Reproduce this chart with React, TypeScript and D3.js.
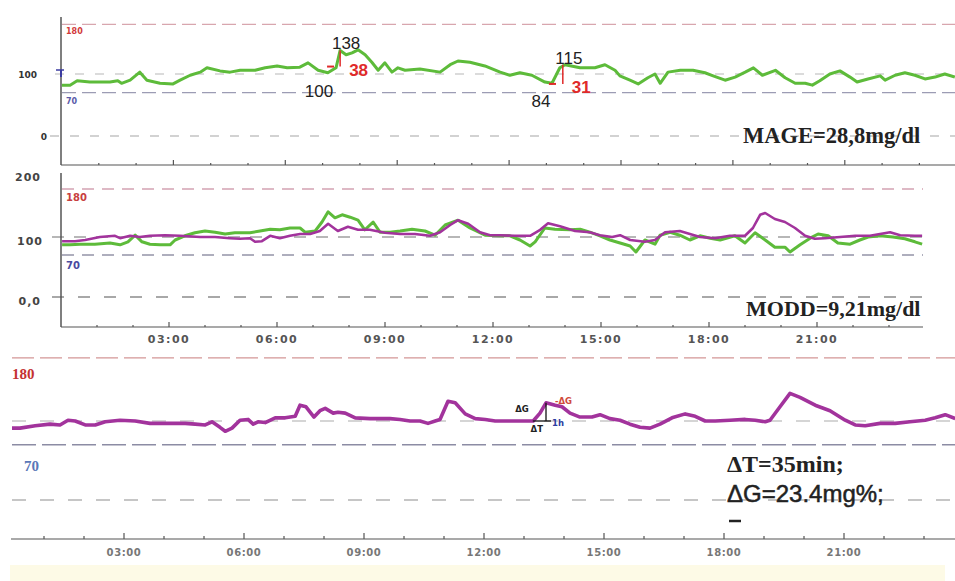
import React from "react";
import * as d3 from "d3";

// panel 1 (MAGE) glucose trace, [hour, mg/dl]
const mageSeries: [number, number][] = [
  [0.01, 82], [0.23, 82], [0.42, 89], [0.76, 87], [1.3, 87], [1.51, 89], [1.61, 85], [1.84, 90],
  [2.1, 103], [2.29, 90], [2.64, 85], [2.99, 84], [3.18, 90], [3.45, 98], [3.72, 103], [3.9, 110],
  [4.25, 105], [4.52, 103], [4.79, 106], [5.19, 106], [5.46, 110], [5.78, 113], [6.05, 110], [6.39, 111],
  [6.61, 118], [6.88, 106], [7.14, 102], [7.36, 110], [7.47, 138], [7.63, 131], [7.79, 134], [7.95, 139],
  [8.14, 131], [8.32, 119], [8.49, 106], [8.67, 118], [8.86, 103], [9.02, 110], [9.21, 106], [9.61, 108],
  [10.15, 103], [10.42, 115], [10.63, 121], [10.95, 119], [11.35, 113], [11.76, 103], [12.02, 98], [12.29, 102],
  [12.61, 98], [12.96, 87], [13.15, 85], [13.36, 110], [13.5, 115], [13.9, 110], [14.3, 110], [14.57, 115],
  [14.84, 106], [14.97, 97], [15.24, 90], [15.46, 84], [15.72, 94], [15.91, 100], [16.05, 85], [16.26, 103],
  [16.59, 106], [16.93, 106], [17.25, 102], [17.47, 97], [17.79, 90], [18.06, 95], [18.33, 103], [18.55, 110],
  [18.79, 98], [19.14, 106], [19.4, 94], [19.67, 85], [19.94, 85], [20.13, 82], [20.33, 89], [20.6, 100],
  [20.87, 105], [21.14, 95], [21.33, 87], [21.62, 92], [21.95, 97], [22.08, 90], [22.35, 98], [22.61, 102],
  [22.88, 98], [23.15, 92], [23.42, 95], [23.68, 100], [23.95, 95],
];

// MAGE swings marked on panel 1
const swingPeakHours = [7.47, 13.44];
const swingPeaks = [138, 115];
const swingNadirHours = [7.2, 13.15];
const swingNadirs = [100, 84];
const swingLineBase = [112, 84];
const swingAmplitudes = [38, 31];

// panel 2 (MODD) two consecutive days
const moddDayA: [number, number][] = [
  [0.03, 87], [0.25, 87], [0.53, 88], [0.94, 88], [1.36, 90], [1.64, 87], [1.86, 92], [2.06, 103],
  [2.25, 92], [2.47, 88], [2.75, 87], [3.03, 87], [3.17, 95], [3.44, 102], [3.72, 107], [4.0, 110],
  [4.28, 108], [4.56, 105], [4.83, 107], [5.25, 107], [5.53, 110], [5.81, 113], [6.08, 112], [6.36, 115],
  [6.64, 115], [6.78, 108], [7.06, 110], [7.25, 125], [7.42, 142], [7.61, 132], [7.81, 137], [8.03, 133],
  [8.25, 128], [8.44, 112], [8.67, 125], [8.86, 108], [9.14, 108], [9.42, 110], [9.75, 113], [10.11, 110],
  [10.39, 103], [10.67, 120], [11.03, 128], [11.36, 115], [11.78, 103], [12.19, 102], [12.47, 102], [12.75, 95],
  [13.03, 85], [13.17, 92], [13.44, 115], [13.72, 113], [14.14, 112], [14.42, 113], [14.69, 108], [14.97, 102],
  [15.25, 95], [15.53, 90], [15.81, 85], [15.97, 75], [16.22, 95], [16.5, 88], [16.64, 103], [16.92, 108],
  [17.19, 103], [17.47, 95], [17.75, 102], [18.03, 98], [18.31, 95], [18.72, 102], [19.0, 90], [19.28, 107],
  [19.56, 95], [19.83, 83], [20.11, 83], [20.25, 75], [20.53, 87], [20.81, 98], [21.03, 105], [21.31, 102],
  [21.58, 90], [21.92, 88], [22.19, 95], [22.42, 100], [22.75, 102], [23.11, 100], [23.44, 97], [23.72, 92],
  [23.92, 88],
];
const moddDayB: [number, number][] = [
  [0.03, 93], [0.39, 93], [0.67, 95], [1.08, 100], [1.5, 102], [1.64, 98], [1.92, 102], [2.19, 100],
  [2.47, 102], [2.89, 103], [3.31, 102], [3.86, 100], [4.28, 100], [4.69, 98], [4.97, 97], [5.25, 98],
  [5.39, 92], [5.58, 93], [5.81, 102], [6.08, 98], [6.36, 102], [6.64, 105], [6.92, 105], [7.19, 110],
  [7.42, 122], [7.69, 110], [7.97, 117], [8.25, 112], [8.58, 112], [9.0, 107], [9.42, 105], [9.83, 105],
  [10.25, 102], [10.53, 108], [10.81, 120], [11.03, 128], [11.31, 122], [11.64, 108], [11.92, 103], [12.19, 103],
  [12.61, 102], [13.03, 102], [13.31, 112], [13.53, 123], [13.86, 118], [14.28, 110], [14.69, 108], [14.97, 103],
  [15.31, 100], [15.53, 103], [15.81, 95], [16.22, 92], [16.5, 95], [16.78, 108], [17.19, 110], [17.47, 105],
  [17.75, 100], [18.17, 98], [18.58, 102], [19.0, 102], [19.22, 115], [19.42, 137], [19.56, 140], [19.83, 130],
  [20.11, 125], [20.39, 115], [20.67, 102], [20.94, 97], [21.22, 98], [21.64, 100], [22.06, 102], [22.47, 102],
  [22.75, 105], [23.03, 108], [23.31, 103], [23.72, 102], [23.92, 102],
];

// panel 3 (CONGA) trace
const congaSeries: [number, number][] = [
  [0.2, 91], [0.4, 91], [0.78, 94], [1.15, 96], [1.4, 95], [1.6, 101], [1.78, 100], [2.03, 95],
  [2.28, 95], [2.53, 99], [2.9, 101], [3.28, 100], [3.65, 97], [4.15, 97], [4.53, 97], [4.78, 96],
  [5.03, 95], [5.2, 99], [5.4, 92], [5.53, 87], [5.7, 91], [5.9, 101], [6.1, 102], [6.23, 96],
  [6.35, 99], [6.53, 98], [6.78, 104], [7.03, 104], [7.28, 106], [7.4, 120], [7.55, 118], [7.75, 105],
  [7.9, 113], [8.03, 116], [8.23, 110], [8.35, 111], [8.53, 110], [8.78, 104], [9.15, 103], [9.65, 103],
  [9.9, 102], [10.15, 100], [10.4, 100], [10.6, 97], [10.78, 100], [10.9, 102], [11.1, 125], [11.28, 123],
  [11.53, 109], [11.78, 103], [12.03, 102], [12.28, 100], [12.65, 100], [13.03, 100], [13.23, 100], [13.4, 110],
  [13.55, 123], [13.78, 120], [13.95, 118], [14.15, 110], [14.4, 105], [14.7, 105], [14.9, 108], [15.15, 103],
  [15.4, 101], [15.65, 96], [15.9, 92], [16.15, 91], [16.4, 96], [16.7, 104], [17.03, 109], [17.28, 106],
  [17.53, 100], [17.78, 100], [18.15, 101], [18.53, 102], [18.78, 101], [19.03, 99], [19.15, 101], [19.4, 118],
  [19.65, 135], [19.9, 130], [20.28, 120], [20.65, 113], [21.03, 101], [21.28, 95], [21.53, 94], [21.9, 97],
  [22.28, 97], [22.65, 99], [23.03, 101], [23.28, 104], [23.53, 108], [23.78, 103],
];

// CONGA step marked on panel 3
const stepStartHour = 13.22;
const stepEndHour = 13.55;
const stepBase = 100;
const stepTop = 123;

const timeLabels = ["03:00", "06:00", "09:00", "12:00", "15:00", "18:00", "21:00"];
const hourTicks = d3.range(1, 24);

const GREEN = "#5dbb3a";
const PURPLE = "#a2339c";
const AXIS = "#555";

type Pt = [number, number];

function trace(xs: d3.ScaleLinear<number, number>, ys: d3.ScaleLinear<number, number>) {
  return d3
    .line<Pt>()
    .x(d => xs(d[0]))
    .y(d => ys(d[1]));
}

export default function App() {
  // panel scales
  const x1 = d3.scaleLinear().domain([0, 24]).range([61.5, 956.7]);
  const y1 = d3.scaleLinear().domain([0, 180]).range([136, 24.4]);
  const x2 = d3.scaleLinear().domain([0, 24]).range([61, 925]);
  const y2 = d3.scaleLinear().domain([0, 200]).range([297, 177]);
  const x3 = d3.scaleLinear().domain([0, 24]).range([4, 964]);
  const y3 = d3.scaleLinear().domain([0, 180]).range([500, 357.8]);

  const hline = (y: number, xa: number, xb: number, color: string, dash: string, w = 1.3) => (
    <line x1={xa} x2={xb} y1={y} y2={y} stroke={color} strokeDasharray={dash} strokeWidth={w} />
  );

  return (
    <div style={{ position: "absolute", left: 0, top: 0 }}>
      <svg width={955} height={581} style={{ display: "block", background: "#fff" }}>
        <rect x={10} y={565} width={935} height={16} fill="#fdfae6" />

        {/* ---------- panel 1: MAGE ---------- */}
        <g>
          {hline(y1(180), 62, 955, "#d8a6ae", "14 6")}
          {hline(y1(100), 55, 955, "#cfcfcf", "9 11")}
          {hline(y1(70), 62, 955, "#9c9cb4", "14 6")}
          {hline(y1(0), 50, 955, "#c4c4c4", "9 11")}
          <line x1={61} x2={61} y1={17} y2={165} stroke={AXIS} strokeWidth={1.5} />
          <line x1={61} x2={955} y1={165} y2={165} stroke={AXIS} strokeWidth={1.2} />
          {hourTicks.map(h => (
            <line key={h} x1={x1(h)} x2={x1(h)} y1={165} y2={h % 3 === 0 ? 160 : 163} stroke={AXIS} strokeWidth={1.2} />
          ))}
          <line x1={56} x2={64} y1={y1(100) - 4} y2={y1(100) - 4} stroke="#3b3ba0" strokeWidth={1.5} />
          <line x1={61} x2={61} y1={y1(100) - 4} y2={y1(100) + 3} stroke="#3b3ba0" strokeWidth={2} />
          <g fontFamily="DejaVu Sans, sans-serif" fontWeight="bold">
            <text x={37} y={y1(100) + 4} fontSize={9} fill="#333" textAnchor="end">100</text>
            <text x={47} y={y1(0) + 4} fontSize={9} fill="#333" textAnchor="end">0</text>
            <text x={66} y={y1(180) + 10} fontSize={8} fill="#d23a3a">180</text>
            <text x={66} y={y1(70) + 11} fontSize={8} fill="#5a5aa8">70</text>
          </g>
          <path d={trace(x1, y1)(mageSeries) ?? ""} fill="none" stroke={GREEN} strokeWidth={3} strokeLinejoin="round" />
          {swingPeaks.map((p, i) => {
            const px = x1(swingPeakHours[i]);
            const nx = x1(swingNadirHours[i]);
            const base = y1(swingLineBase[i]);
            return (
              <g key={i} fontFamily="Liberation Sans, Arial, sans-serif">
                <line x1={px} x2={px} y1={y1(p)} y2={base} stroke="#e02a2a" strokeWidth={1.5} />
                <line x1={nx - 3} x2={nx + 4} y1={base} y2={base} stroke="#e02a2a" strokeWidth={2} />
                <text x={px + 6} y={y1(p) - 1} fontSize={17} fill="#222" textAnchor="middle">{p}</text>
                <text x={nx - 11} y={y1(swingNadirs[i]) + 23} fontSize={17} fill="#222" textAnchor="middle">
                  {swingNadirs[i]}
                </text>
                <text x={px + 9} y={base + 9} fontSize={17} fontWeight="bold" fill="#e02a2a">
                  {swingAmplitudes[i]}
                </text>
              </g>
            );
          })}
          <text x={743} y={143} fontFamily="Liberation Serif, Times New Roman, serif" fontWeight="bold" fontSize={22.5} fill="#222">
            MAGE=28,8mg/dl
          </text>
        </g>

        {/* ---------- panel 2: MODD ---------- */}
        <g>
          {hline(y2(180), 62, 923, "#d4a2b2", "12 8")}
          {hline(y2(100), 52, 923, "#a0a0a0", "12 10")}
          {hline(y2(70), 62, 923, "#9494a8", "12 8")}
          {hline(y2(0), 52, 923, "#8c8c8c", "12 14")}
          <line x1={61} x2={61} y1={173} y2={327} stroke={AXIS} strokeWidth={1.5} />
          <line x1={61} x2={923} y1={327} y2={327} stroke={AXIS} strokeWidth={1.2} />
          {hourTicks.map(h => (
            <line key={h} x1={x2(h)} x2={x2(h)} y1={327} y2={h % 3 === 0 ? 322 : 325} stroke={AXIS} strokeWidth={1.2} />
          ))}
          <g fontFamily="DejaVu Sans, sans-serif" fontWeight="bold" fill="#444" fontSize={11} letterSpacing={1}>
            <text x={41} y={y2(200) + 4} textAnchor="end">200</text>
            <text x={43} y={y2(100) + 8} textAnchor="end">100</text>
            <text x={41} y={y2(0) + 8} textAnchor="end">0,0</text>
          </g>
          <g fontFamily="DejaVu Sans, sans-serif" fontWeight="bold" fontSize={10}>
            <text x={66} y={y2(180) + 12} fill="#c84040">180</text>
            <text x={66} y={y2(70) + 14} fill="#4a4aa0">70</text>
          </g>
          {timeLabels.map((t, i) => (
            <text key={t} x={x2((i + 1) * 3)} y={343} fontFamily="DejaVu Sans, sans-serif" fontWeight="bold" fontSize={11} letterSpacing={1.5} fill="#555" textAnchor="middle">
              {t}
            </text>
          ))}
          <path d={trace(x2, y2)(moddDayA) ?? ""} fill="none" stroke={GREEN} strokeWidth={3} strokeLinejoin="round" />
          <path d={trace(x2, y2)(moddDayB) ?? ""} fill="none" stroke={PURPLE} strokeWidth={2.6} strokeLinejoin="round" />
          <text x={746} y={316} fontFamily="Liberation Serif, Times New Roman, serif" fontWeight="bold" fontSize={22} fill="#222">
            MODD=9,21mg/dl
          </text>
        </g>

        {/* ---------- panel 3: CONGA ---------- */}
        <g>
          {hline(y3(180), 12, 955, "#d49696", "22 6")}
          {hline(y3(100), 12, 955, "#c8c8c8", "14 14")}
          {hline(y3(70), 12, 955, "#8c8ca4", "24 6", 1.6)}
          {hline(y3(0), 12, 955, "#b4b4b4", "14 14")}
          <line x1={11} x2={955} y1={539} y2={539} stroke={AXIS} strokeWidth={1.2} />
          {hourTicks.map(h => (
            <line key={h} x1={x3(h)} x2={x3(h)} y1={539} y2={h % 3 === 0 ? 533 : 536} stroke={AXIS} strokeWidth={1.2} />
          ))}
          {timeLabels.map((t, i) => (
            <text key={t} x={x3((i + 1) * 3)} y={556} fontFamily="DejaVu Sans, sans-serif" fontWeight="bold" fontSize={10} letterSpacing={0.6} fill="#777" textAnchor="middle">
              {t}
            </text>
          ))}
          <g fontFamily="Liberation Serif, Times New Roman, serif" fontWeight="bold" fontSize={15}>
            <text x={12} y={y3(180) + 21} fill="#c43232">180</text>
            <text x={24} y={y3(70) + 26} fill="#5a78b8">70</text>
          </g>
          <path d={trace(x3, y3)(congaSeries) ?? ""} fill="none" stroke={PURPLE} strokeWidth={3.6} strokeLinejoin="round" />
          <line x1={x3(stepEndHour)} x2={x3(stepEndHour)} y1={y3(stepTop)} y2={y3(stepBase)} stroke="#111" strokeWidth={1.3} />
          <line x1={x3(stepStartHour)} x2={x3(stepEndHour) + 5} y1={y3(stepBase)} y2={y3(stepBase)} stroke="#111" strokeWidth={1.3} />
          <g fontFamily="DejaVu Sans, sans-serif" fontWeight="bold" fontSize={8.5}>
            <text x={x3(stepStartHour) - 4} y={y3(stepTop) + 9} fill="#222" textAnchor="end">ΔG</text>
            <text x={x3(stepEndHour) - 3} y={y3(stepBase) + 11} fill="#222" textAnchor="end">ΔT</text>
            <text x={x3(stepEndHour) + 9} y={y3(stepTop) + 1} fill="#d04a3a">-ΔG</text>
            <text x={x3(stepEndHour) + 6} y={y3(stepBase) + 5} fill="#2c3ca0">1h</text>
          </g>
          <text x={727} y={472} fontFamily="Liberation Serif, Times New Roman, serif" fontWeight="bold" fontSize={24} fill="#222">
            ΔT=35min;
          </text>
          <text x={727} y={502} fontFamily="Liberation Sans, Arial, sans-serif" fontSize={24} fill="#222" stroke="#222" strokeWidth={0.5}>
            ΔG=23.4mg%;
          </text>
          <line x1={729} x2={741} y1={521} y2={521} stroke="#222" strokeWidth={2.5} />
        </g>
      </svg>
    </div>
  );
}
